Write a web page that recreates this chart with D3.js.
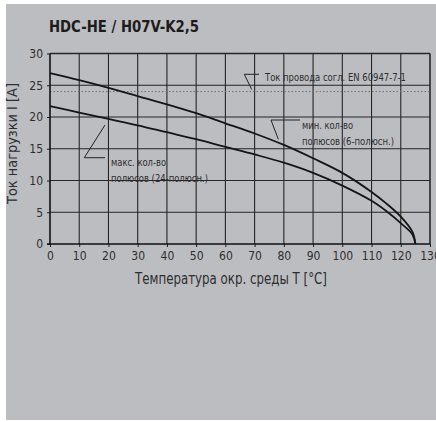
<!DOCTYPE html>
<html>
<head>
<meta charset="utf-8">
<script src="https://cdn.jsdelivr.net/npm/d3@7"></script>
<style>
  html, body { margin: 0; padding: 0; background: #ffffff; }
  svg { display: block; }
  text { font-family: "Liberation Sans Narrow", "DejaVu Sans Condensed", "Roboto", sans-serif; }
</style>
</head>
<body>
<svg id="chart" width="436" height="422"></svg>
<script>
// ---- data ----
const temperatures = [0, 10, 20, 30, 40, 50, 60, 70, 80, 90, 100, 110, 115, 120, 124, 125];
const currentMinPoles = [26.9, 25.8, 24.6, 23.3, 22.0, 20.6, 19.0, 17.4, 15.6, 13.5, 11.2, 8.2, 6.4, 4.3, 1.9, 0];   // 6-pole
const currentMaxPoles = [21.7, 20.7, 19.7, 18.7, 17.6, 16.5, 15.3, 14.1, 12.8, 11.2, 9.2, 6.8, 5.2, 3.3, 1.5, 0];   // 24-pole
const ratedCurrent = 24;
const xTickValues = [0, 10, 20, 30, 40, 50, 60, 70, 80, 90, 100, 110, 120, 130];
const yTickValues = [0, 5, 10, 15, 20, 25, 30];

const titleText = "HDC-HE / H07V-K2,5";
const xTitle = "Температура окр. среды T [°C]";
const yTitle = "Ток нагрузки I [A]";
const ratedLabel = "Ток провода согл. EN 60947-7-1";
const minLabel = ["мин. кол-во", "полюсов (6-полюсн.)"];
const maxLabel = ["макс. кол-во", "полюсов (24-полюсн.)"];

// ---- drawing ----
const svg = d3.select("#chart");
const ink = "#1f1f1f", textCol = "#2e2e2e";

svg.append("rect").attr("x", 6).attr("y", 4).attr("width", 430).attr("height", 416).attr("fill", "#bcbdc1");

const x = d3.scaleLinear().domain([0, 130]).range([50, 430]);
const y = d3.scaleLinear().domain([0, 30]).range([244, 53.5]);

// grid
const grid = svg.append("g");
grid.selectAll("line.v").data(xTickValues.filter(d => d > 0)).join("line")
  .attr("x1", d => x(d)).attr("x2", d => x(d)).attr("y1", y(0)).attr("y2", y(30))
  .attr("stroke", "#262626").attr("stroke-width", d => d === 130 ? 1.6 : 1.1);
grid.selectAll("line.h").data(yTickValues.filter(d => d > 0)).join("line")
  .attr("x1", x(0)).attr("x2", x(130)).attr("y1", d => y(d)).attr("y2", d => y(d))
  .attr("stroke", "#262626").attr("stroke-width", d => d === 30 ? 1.4 : 1.1);

// rated current dotted line
svg.append("line")
  .attr("x1", x(0)).attr("x2", x(130)).attr("y1", y(ratedCurrent)).attr("y2", y(ratedCurrent))
  .attr("stroke", "#6e6e6e").attr("stroke-width", 1).attr("stroke-dasharray", "1.5,2");

// axes
const yAxis = d3.axisLeft(y).tickValues(yTickValues).tickSize(3).tickPadding(4);
const xAxis = d3.axisBottom(x).tickValues(xTickValues).tickSize(3).tickPadding(4.5);
const gy = svg.append("g").attr("transform", `translate(${x(0)},0)`).call(yAxis);
const gx = svg.append("g").attr("transform", `translate(0,${y(0)})`).call(xAxis);
[gx, gy].forEach(g => {
  g.select(".domain").remove();
  g.selectAll(".tick line").attr("stroke", ink);
  g.selectAll(".tick text").attr("fill", textCol).attr("font-size", 12)
    .attr("font-family", "'Liberation Sans Narrow', 'DejaVu Sans Condensed', sans-serif");
});
svg.append("line").attr("x1", x(0)).attr("x2", x(0)).attr("y1", y(30)).attr("y2", y(0))
  .attr("stroke", "#111").attr("stroke-width", 1.6);
svg.append("line").attr("x1", x(0) - 3).attr("x2", x(130)).attr("y1", y(0)).attr("y2", y(0))
  .attr("stroke", "#111").attr("stroke-width", 1.6);

// curves
const line = d3.line().x(d => x(d[0])).y(d => y(d[1])).curve(d3.curveCatmullRom.alpha(0.5));
[currentMinPoles, currentMaxPoles].forEach(vals => {
  svg.append("path")
    .datum(temperatures.map((t, i) => [t, vals[i]]))
    .attr("d", line).attr("fill", "none").attr("stroke", "#151515").attr("stroke-width", 1.8);
});

// title
svg.append("text").attr("x", 49).attr("y", 32).text(titleText)
  .attr("font-size", 15).attr("font-weight", "bold").attr("fill", "#1c1c1c")
  .attr("textLength", 150).attr("lengthAdjust", "spacingAndGlyphs");

// axis titles
svg.append("text").attr("x", 135).attr("y", 284).text(xTitle)
  .attr("font-size", 15.5).attr("fill", textCol)
  .attr("textLength", 192).attr("lengthAdjust", "spacingAndGlyphs");
svg.append("text").attr("transform", "translate(17,204) rotate(-90)").text(yTitle)
  .attr("font-size", 14).attr("fill", textCol)
  .attr("textLength", 121).attr("lengthAdjust", "spacingAndGlyphs");

// annotations
const lead = svg.append("g").attr("fill", "none").attr("stroke", "#222").attr("stroke-width", 1);
lead.append("path").attr("d", "M259,74.3 L244.3,74.3 L251.7,89.5");
lead.append("path").attr("d", "M300,120 L271,120 L278.3,139.3");
lead.append("path").attr("d", "M105,157.7 L84.3,157.7 L105,125");

const ann = svg.append("g").attr("fill", textCol).attr("font-size", 10.5);
ann.append("text").attr("x", 265).attr("y", 80.7).text(ratedLabel)
  .attr("font-size", 11).attr("textLength", 141).attr("lengthAdjust", "spacingAndGlyphs");
ann.append("text").attr("x", 302).attr("y", 129.3).text(minLabel[0])
  .attr("textLength", 51).attr("lengthAdjust", "spacingAndGlyphs");
ann.append("text").attr("x", 302).attr("y", 145.3).text(minLabel[1])
  .attr("textLength", 92).attr("lengthAdjust", "spacingAndGlyphs");
ann.append("text").attr("x", 111).attr("y", 166).text(maxLabel[0])
  .attr("textLength", 55).attr("lengthAdjust", "spacingAndGlyphs");
ann.append("text").attr("x", 111).attr("y", 181.7).text(maxLabel[1])
  .attr("textLength", 97).attr("lengthAdjust", "spacingAndGlyphs");
</script>
</body>
</html>
